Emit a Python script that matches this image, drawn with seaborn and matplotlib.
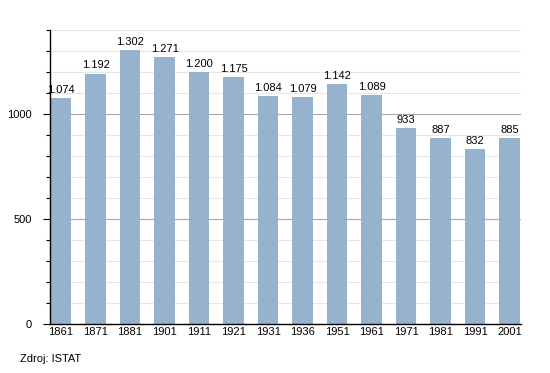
import matplotlib
matplotlib.use('Agg')
import matplotlib.pyplot as plt
import pandas as pd
import seaborn as sns
from matplotlib.ticker import MultipleLocator

years = ['1861', '1871', '1881', '1901', '1911', '1921', '1931',
         '1936', '1951', '1961', '1971', '1981', '1991', '2001']
population = [1074, 1192, 1302, 1271, 1200, 1175, 1084,
              1079, 1142, 1089, 933, 887, 832, 885]

df = pd.DataFrame({'year': years, 'pop': population})

sns.set_style('white')
plt.rcParams['font.family'] = ['Liberation Sans', 'DejaVu Sans']
plt.rcParams['text.color'] = 'black'
plt.rcParams['xtick.color'] = 'black'
plt.rcParams['ytick.color'] = 'black'

fig = plt.figure(figsize=(5.5, 3.73), dpi=100)
ax = fig.add_axes([0.091, 0.131, 0.856, 0.789])

sns.barplot(data=df, x='year', y='pop', color='#97b2cc', saturation=1,
            width=0.6, linewidth=0, ax=ax, zorder=2)

ax.set_ylim(0, 1400)
ax.set_xlim(-0.32, len(years) - 1 + 0.33)
ax.yaxis.set_major_locator(MultipleLocator(500))
ax.yaxis.set_minor_locator(MultipleLocator(100))
ax.grid(axis='y', which='minor', color='#e6e6e6', lw=0.8, zorder=0)
ax.grid(axis='y', which='major', color='#a8a8a8', lw=0.8, zorder=1)
ax.set_axisbelow(True)

for s in ['top', 'right']:
    ax.spines[s].set_visible(False)
for s in ['left', 'bottom']:
    ax.spines[s].set_color('black')
    ax.spines[s].set_linewidth(1)

ax.tick_params(axis='y', which='major', length=5, width=0.8, labelsize=8, pad=8, left=True)
ax.tick_params(axis='y', which='minor', length=3, width=0.8, left=True)
ax.tick_params(axis='x', length=0, labelsize=8, pad=2)
ax.set_xlabel('')
ax.set_ylabel('')

for i, v in enumerate(population):
    lab = f'{v:,}'.replace(',', '.')
    ax.text(i, v + 15, lab, ha='center', va='bottom', fontsize=8)

fig.text(0.036, 0.03, 'Zdroj: ISTAT', fontsize=8)

fig.savefig('out.png', dpi=100)
